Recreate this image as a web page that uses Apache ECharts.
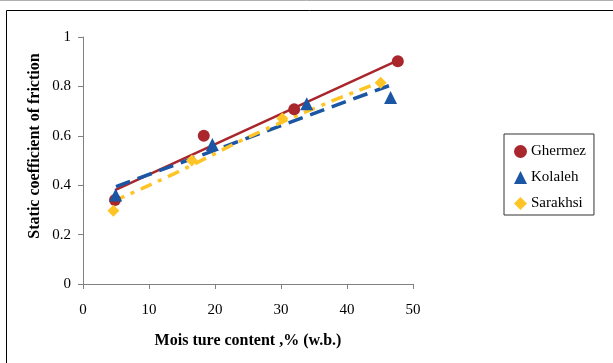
<!DOCTYPE html>
<html>
<head>
<meta charset="utf-8">
<script src="https://cdn.jsdelivr.net/npm/echarts@6/dist/echarts.min.js"></script>
<style>
  html, body { margin: 0; padding: 0; background: #fff; }
  #chart { width: 613px; height: 363px; }
</style>
</head>
<body>
<div id="chart"></div>
<script>
// measured points, [moisture %, coefficient]
const ghermez = [[4.85, 0.34], [18.3, 0.60], [32.0, 0.707], [47.7, 0.902]];
const kolaleh = [[4.95, 0.36], [19.6, 0.565], [33.9, 0.73], [46.6, 0.755]];
const sarakhsi = [[4.6, 0.297], [16.5, 0.50], [30.2, 0.67], [45.1, 0.815]];

// trend lines as drawn in the picture
const ghermezTrend = [[4.85, 0.38], [47.7, 0.905]];
const kolalehTrend = [[5.0, 0.394], [46.5, 0.804]];
const sarakhsiTrend = [[4.6, 0.335], [13.6, 0.444], [28.8, 0.64], [45.1, 0.818]];

const seriesNames = ["Ghermez", "Kolaleh", "Sarakhsi"];
const colors = ["#A8262C", "#1A56A4", "#FFC425"];

const xTitle = "Mois ture content ,% (w.b.)";
const yTitle = "Static coefficient of friction";

const serif = "Liberation Serif";

const chartDom = document.getElementById("chart");
const myChart = echarts.init(chartDom);

const option = {
  animation: false,
  backgroundColor: "#fff",
  grid: {
    left: 83,
    right: 200,
    top: 37,
    bottom: 79,
  },
  legend: {
    data: seriesNames,
    orient: "vertical",
    left: 504,
    top: 134,
    padding: [10, 8, 4, 10],
    itemWidth: 13,
    itemHeight: 13,
    itemGap: 11,
    borderColor: "#333",
    borderWidth: 1,
    textStyle: {
      fontFamily: serif,
      fontSize: 15,
      color: "#000",
      padding: [0, 0, 0, -1],
    },
  },
  xAxis: {
    type: "value",
    min: 0,
    max: 50,
    interval: 10,
    axisLine: { show: true, lineStyle: { color: "#808080", width: 1 } },
    axisTick: { show: true, length: 5, lineStyle: { color: "#808080" } },
    axisLabel: {
      fontFamily: serif,
      fontSize: 15,
      color: "#000",
      margin: 19,
    },
    splitLine: { show: false },
  },
  yAxis: {
    type: "value",
    min: 0,
    max: 1,
    interval: 0.2,
    axisLine: { show: true, lineStyle: { color: "#808080", width: 1 } },
    axisTick: { show: true, length: 5, lineStyle: { color: "#808080" } },
    axisLabel: {
      fontFamily: serif,
      fontSize: 15,
      color: "#000",
      margin: 12,
      formatter: (v) => String(Math.round(v * 10) / 10),
    },
    splitLine: { show: false },
  },
  graphic: [
    {
      type: "line",
      shape: { x1: 0, y1: 0.5, x2: 613, y2: 0.5 },
      style: { stroke: "#b0b0b0", lineWidth: 1 },
    },
    {
      type: "polyline",
      shape: { points: [[6.5, 363], [6.5, 10.5], [613, 10.5]] },
      style: { stroke: "#000", lineWidth: 1, fill: null },
    },
    {
      type: "text",
      x: 248,
      y: 341,
      style: {
        text: xTitle,
        fontFamily: serif,
        fontSize: 16,
        fontWeight: "bold",
        fill: "#000",
        align: "center",
        verticalAlign: "middle",
      },
    },
    {
      type: "text",
      x: 35,
      y: 146,
      rotation: Math.PI / 2,
      style: {
        text: yTitle,
        fontFamily: serif,
        fontSize: 16,
        fontWeight: "bold",
        fill: "#000",
        align: "center",
        verticalAlign: "middle",
      },
    },
  ],
  series: [
    {
      name: "Ghermez trend",
      type: "line",
      data: ghermezTrend,
      showSymbol: false,
      lineStyle: { color: colors[0], width: 2.5, type: "solid" },
      z: 2,
    },
    {
      name: "Kolaleh trend",
      type: "line",
      data: kolalehTrend,
      showSymbol: false,
      lineStyle: { color: colors[1], width: 3.5, type: [15, 8] },
      z: 2,
    },
    {
      name: "Sarakhsi trend",
      type: "line",
      data: sarakhsiTrend,
      showSymbol: false,
      smooth: true,
      lineStyle: { color: colors[2], width: 3.5, type: [12, 7, 4, 7] },
      z: 2,
    },
    {
      name: "Ghermez",
      type: "scatter",
      data: ghermez,
      symbol: "circle",
      symbolSize: 12,
      itemStyle: { color: colors[0], opacity: 1 },
      z: 3,
    },
    {
      name: "Kolaleh",
      type: "scatter",
      data: kolaleh,
      symbol: "triangle",
      symbolSize: 13,
      itemStyle: { color: colors[1], opacity: 1 },
      z: 3,
    },
    {
      name: "Sarakhsi",
      type: "scatter",
      data: sarakhsi,
      symbol: "diamond",
      symbolSize: 12,
      itemStyle: { color: colors[2], opacity: 1 },
      z: 3,
    },
  ],
};

myChart.setOption(option);
</script>
</body>
</html>
